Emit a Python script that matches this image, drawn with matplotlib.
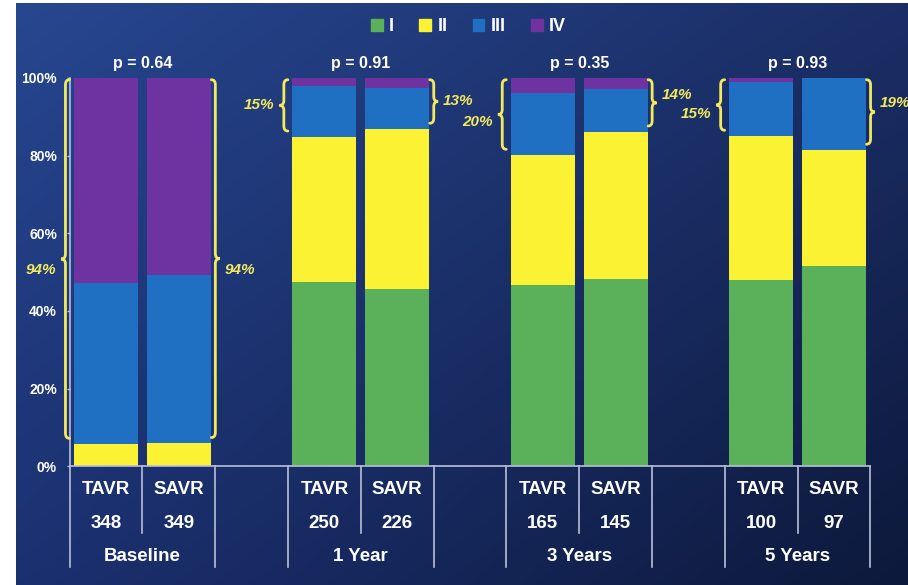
import numpy as np
import matplotlib
matplotlib.use('Agg')
import matplotlib.pyplot as plt
from matplotlib.patches import Patch, PathPatch
from matplotlib.path import Path

plt.rcParams['font.family'] = ['Liberation Sans', 'DejaVu Sans']
plt.rcParams['font.weight'] = 'bold'

# data
groups = ['Baseline', '1 Year', '3 Years', '5 Years']
arms = ['TAVR', 'SAVR']
n_patients = [348, 349, 250, 226, 165, 145, 100, 97]
p_values = ['0.64', '0.91', '0.35', '0.93']
class_I = [0.0, 0.0, 47.5, 45.6, 46.7, 48.3, 48.0, 51.6]
class_II = [5.7, 5.9, 37.3, 41.2, 33.4, 37.8, 37.0, 29.8]
class_III = [41.4, 43.3, 13.1, 10.5, 16.1, 11.0, 14.0, 18.6]
class_IV = [52.9, 50.8, 2.1, 2.7, 3.8, 2.9, 1.0, 0.0]
bracket_labels = ['94%', '94%', '15%', '13%', '20%', '14%', '15%', '19%']
class_names = ['I', 'II', 'III', 'IV']

# layout: shift of each bracket label relative to the bracket tip (in %)
label_dy = [-2.7, -3.0, 0.0, 0.0, -1.8, 2.0, -2.4, 2.4]

colors = ['#5bb05a', '#faf232', '#1f6fc3', '#6e33a0']
brace_col = '#f2e95c'
grid_col = '#b9bfd8'
fw = 'bold'

fig = plt.figure(figsize=(9.08, 5.85), dpi=100, facecolor='white')

# background gradient (lighter top-left, darker bottom-right)
bg = fig.add_axes([16/908, 0, 1-16/908, 1-3/585], zorder=-10)
tl = np.array([0x27, 0x47, 0x90])/255
tr = np.array([0x1b, 0x2e, 0x66])/255
bl = np.array([0x1b, 0x30, 0x70])/255
br = np.array([0x0d, 0x19, 0x3b])/255
u = np.linspace(0, 1, 200)[None, :, None]
v = np.linspace(0, 1, 200)[:, None, None]
img = (1-v)*((1-u)*tl + u*tr) + v*((1-u)*bl + u*br)
bg.imshow(img, aspect='auto', extent=[0, 1, 0, 1], interpolation='bilinear')
bg.axis('off')

ax = fig.add_axes([69.6/908, 118.7/585, 800.8/908, 388.5/585])
ax.set_facecolor('none')

pos = []
for g in range(len(groups)):
    pos += [3*g, 3*g+1]
pos = np.array(pos, dtype=float)
width = 0.88

bottom = np.zeros(len(pos))
for vals, c in zip([class_I, class_II, class_III, class_IV], colors):
    ax.bar(pos, vals, width=width, bottom=bottom, color=c, linewidth=0, zorder=2)
    bottom += np.array(vals)

ax.set_xlim(-0.5, 10.5)
ax.set_ylim(0, 100)
ax.set_yticks([0, 20, 40, 60, 80, 100])
ax.set_yticklabels(['0%', '20%', '40%', '60%', '80%', '100%'], fontweight=fw)
ax.tick_params(axis='y', length=2.5, width=1, color=grid_col, pad=6.5,
               labelcolor='white', labelsize=10)
ax.set_xticks([])
for s in ['top', 'right']:
    ax.spines[s].set_visible(False)
for s in ['left', 'bottom']:
    ax.spines[s].set_color(grid_col)
    ax.spines[s].set_linewidth(1.2)

# table under the axis
for g, name in enumerate(groups):
    c = 3*g
    for xd in [c-0.5, c+1.5]:
        ax.plot([xd, xd], [0, -26], color=grid_col, lw=1.2, clip_on=False)
    ax.plot([c+0.5, c+0.5], [0, -17.2], color=grid_col, lw=1.2, clip_on=False)
    for k in range(2):
        ax.text(c+k, -5.9, arms[k], color='white', fontsize=13.5, fontweight=fw,
                ha='center', va='center')
        ax.text(c+k, -14.6, str(n_patients[2*g+k]), color='white', fontsize=13.5,
                fontweight=fw, ha='center', va='center')
    ax.text(c+0.5, -23.1, name, color='white', fontsize=13.5, fontweight=fw,
            ha='center', va='center')
    ax.text(c+0.5, 103.8, 'p = ' + p_values[g], color='white', fontsize=11.5,
            fontweight=fw, ha='center', va='center', clip_on=False)


def brace(x, y0, y1, side, w=0.055, t=0.06, r=1.3):
    # side=-1: tip to the left, hooks to the right; side=+1 the other way
    ym = (y0 + y1)/2
    hw = -side*w
    verts = [(x+hw, y1), (x, y1), (x, y1-r),
             (x, ym+r), (x, ym), (x+side*t, ym),
             (x, ym), (x, ym-r),
             (x, y0+r), (x, y0), (x+hw, y0)]
    codes = [Path.MOVETO, Path.CURVE3, Path.CURVE3,
             Path.LINETO, Path.CURVE3, Path.CURVE3,
             Path.CURVE3, Path.CURVE3,
             Path.LINETO, Path.CURVE3, Path.CURVE3]
    ax.add_patch(PathPatch(Path(verts, codes), fill=False, edgecolor=brace_col,
                           lw=2, clip_on=False, zorder=3, capstyle='round'))
    return ym


top_II = np.array(class_I) + np.array(class_II)
for i, p in enumerate(pos):
    lo, hi = top_II[i] + 1.5, 99.5
    if i % 2 == 0:
        xl = p - width/2 - 0.117
        ym = brace(xl, lo, hi, -1)
        ax.text(xl - 0.13, ym + label_dy[i], bracket_labels[i], color=brace_col,
                fontsize=11, fontweight=fw, style='italic', ha='right', va='center',
                clip_on=False)
    else:
        xr = p + width/2 + 0.062
        ym = brace(xr, lo, hi, 1)
        ax.text(xr + 0.13, ym + label_dy[i], bracket_labels[i], color=brace_col,
                fontsize=11, fontweight=fw, style='italic', ha='left', va='center',
                clip_on=False)

handles = [Patch(color=c) for c in colors]
leg = fig.legend(handles, class_names, loc='center', bbox_to_anchor=(0.516, 0.954),
                 ncol=4, frameon=False, handlelength=0.65, handleheight=0.65,
                 handletextpad=0.35, columnspacing=1.4,
                 prop={'size': 13, 'weight': 'bold'})
for txt in leg.get_texts():
    txt.set_color('white')

fig.savefig('out.png', dpi=100)
